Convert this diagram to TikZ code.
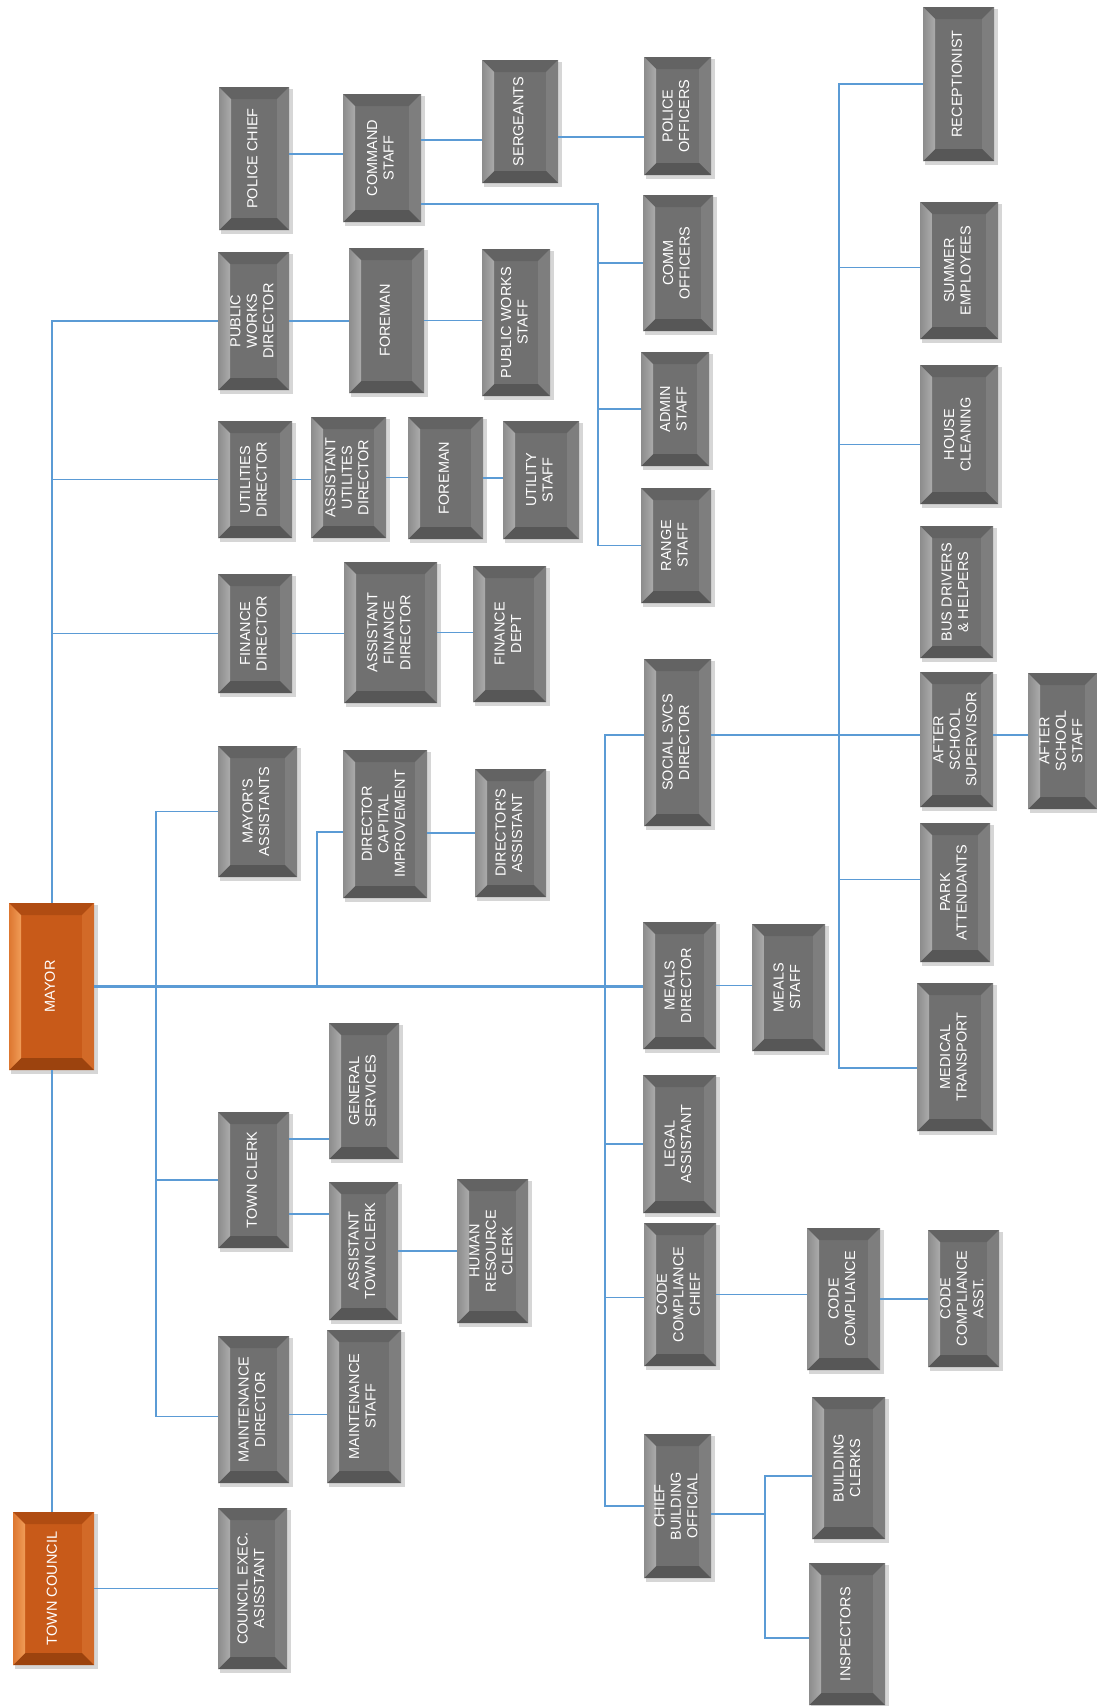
\documentclass[tikz,border=0pt]{standalone}
\usepackage{fontspec}
\usepackage{graphicx}
\newfontfamily\boxfont{Liberation Sans}
\usetikzlibrary{calc}
\definecolor{gface}{HTML}{707070}
\definecolor{gleftA}{HTML}{8C8C8C}
\definecolor{gleftB}{HTML}{ABABAB}
\definecolor{gtop}{HTML}{636363}
\definecolor{gright}{HTML}{7E7E7E}
\definecolor{gbot}{HTML}{575757}
\definecolor{oface}{HTML}{C85A19}
\definecolor{oleftA}{HTML}{DD7730}
\definecolor{oleftB}{HTML}{F09C58}
\definecolor{otop}{HTML}{B04C12}
\definecolor{oright}{HTML}{D26A28}
\definecolor{obot}{HTML}{9C430E}
\definecolor{linkblue}{HTML}{5B9BD5}
\tikzset{
  boxtext/.style={inner sep=0pt, outer sep=0pt, text=white,
    font=\boxfont\fontsize{14.5}{16.5}\selectfont},
  link/.style={draw=linkblue, line width=1.5pt}
}
\newcommand\bv{12}
\newcommand\orgbox[7][g]{%
  \fill[black,opacity=0.16] (#3+2,#4+2) rectangle (#5+4,#6+4);
  \fill[#1face] (#3,#4) rectangle (#5,#6);
  \fill[#1top] (#3,#4) -- (#5,#4) -- (#5-\bv,#4+\bv) -- (#3+\bv,#4+\bv) -- cycle;
  \fill[#1right] (#5,#4) -- (#5,#6) -- (#5-\bv,#6-\bv) -- (#5-\bv,#4+\bv) -- cycle;
  \fill[#1bot] (#3,#6) -- (#3+\bv,#6-\bv) -- (#5-\bv,#6-\bv) -- (#5,#6) -- cycle;
  \shade[left color=#1leftA, right color=#1leftB] (#3,#4) -- (#3+\bv,#4+\bv) -- (#3+\bv,#6-\bv) -- (#3,#6) -- cycle;
  \node[boxtext, minimum width={#5-#3}, minimum height={#6-#4}] (#2) at ({(#3+#5)/2},{(#4+#6)/2})
    {\rotatebox{90}{\begin{tabular}{@{}c@{}}#7\end{tabular}}};
}
\begin{document}
\begin{tikzpicture}[x=1pt,y=-1pt]
\path[use as bounding box, fill=white] (0,0) rectangle (1097,1706);

% top level
\orgbox[o]{mayor}{9}{903}{94}{1070}{MAYOR}
\orgbox[o]{council}{13}{1512}{94}{1665}{TOWN COUNCIL}
% column 1
\orgbox{pchief}{219}{87}{289}{230}{POLICE CHIEF}
\orgbox{pwdir}{218}{252}{289}{390}{PUBLIC\\WORKS\\DIRECTOR}
\orgbox{utildir}{218}{421}{292}{538}{UTILITIES\\DIRECTOR}
\orgbox{findir}{218}{574}{292}{693}{FINANCE\\DIRECTOR}
\orgbox{mayasst}{218}{746}{297}{877}{MAYOR'S\\ASSISTANTS}
\orgbox{townclerk}{218}{1112}{289}{1248}{TOWN CLERK}
\orgbox{maintdir}{218}{1336}{289}{1483}{MAINTENANCE\\DIRECTOR}
\orgbox{councilasst}{218}{1508}{287}{1669}{COUNCIL EXEC.\\ASISSTANT}
% column 2
\orgbox{cmdstaff}{343}{94}{421}{222}{COMMAND\\STAFF}
\orgbox{foremana}{349}{248}{424}{393}{FOREMAN}
\orgbox{asstutil}{311}{417}{386}{538}{ASSISTANT\\UTILITES\\DIRECTOR}
\orgbox{asstfin}{344}{562}{437}{703}{ASSISTANT\\FINANCE\\DIRECTOR}
\orgbox{dci}{343}{750}{427}{898}{DIRECTOR\\CAPITAL\\IMPROVEMENT}
\orgbox{gensvc}{329}{1023}{399}{1159}{GENERAL\\SERVICES}
\orgbox{asstclerk}{329}{1182}{398}{1320}{ASSISTANT\\TOWN CLERK}
\orgbox{maintstaff}{327}{1330}{401}{1483}{MAINTENANCE\\STAFF}
% column 3
\orgbox{sergeants}{482}{60}{558}{183}{SERGEANTS}
\orgbox{pwstaff}{482}{249}{550}{396}{PUBLIC WORKS\\STAFF}
\orgbox{foremanb}{408}{417}{483}{539}{FOREMAN}
\orgbox{utilstaff}{503}{421}{579}{539}{UTILITY\\STAFF}
\orgbox{findept}{473}{566}{546}{702}{FINANCE\\DEPT}
\orgbox{dirasst}{475}{769}{546}{897}{DIRECTOR'S\\ASSISTANT}
\orgbox{hrclerk}{457}{1179}{528}{1323}{HUMAN\\RESOURCE\\CLERK}
% column 4
\orgbox{pofficers}{644}{57}{711}{175}{POLICE\\OFFICERS}
\orgbox{commoff}{643}{195}{713}{331}{COMM\\OFFICERS}
\orgbox{adminstaff}{641}{352}{709}{466}{ADMIN\\STAFF}
\orgbox{rangestaff}{641}{488}{711}{603}{RANGE\\STAFF}
\orgbox{socsvc}{644}{659}{711}{826}{SOCIAL SVCS\\DIRECTOR}
\orgbox{mealsdir}{643}{922}{716}{1049}{MEALS\\DIRECTOR}
\orgbox{legal}{643}{1075}{716}{1213}{LEGAL\\ASSISTANT}
\orgbox{ccchief}{644}{1223}{716}{1366}{CODE\\COMPLIANCE\\CHIEF}
\orgbox{cbo}{644}{1434}{711}{1578}{CHIEF\\BUILDING\\OFFICIAL}
% column 5
\orgbox{mealsstaff}{752}{924}{825}{1051}{MEALS\\STAFF}
\orgbox{cc}{807}{1228}{880}{1370}{CODE\\COMPLIANCE}
\orgbox{bclerks}{812}{1397}{885}{1539}{BUILDING\\CLERKS}
\orgbox{inspectors}{809}{1563}{885}{1705}{INSPECTORS}
% column 6
\orgbox{reception}{923}{7}{994}{161}{RECEPTIONIST}
\orgbox{summer}{920}{202}{998}{339}{SUMMER\\EMPLOYEES}
\orgbox{house}{920}{365}{998}{504}{HOUSE\\CLEANING}
\orgbox{bus}{920}{526}{993}{658}{BUS DRIVERS\\\& HELPERS}
\orgbox{assup}{920}{672}{993}{807}{AFTER\\SCHOOL\\SUPERVISOR}
\orgbox{park}{920}{823}{990}{962}{PARK\\ATTENDANTS}
\orgbox{medical}{917}{983}{993}{1131}{MEDICAL\\TRANSPORT}
\orgbox{ccasst}{928}{1230}{999}{1367}{CODE\\COMPLIANCE\\ASST.}
\orgbox{asstaff}{1028}{673}{1097}{809}{AFTER\\SCHOOL\\STAFF}

% connectors
\begin{scope}[link]
\draw[line width=2pt] (mayor.north) |- (pwdir.west);
\draw (mayor.north |- utildir.west) -- (utildir.west);
\draw (mayor.north |- findir.west) -- (findir.west);
\draw[line width=2pt] (mayor.south) -- (mayor.south |- council.north);
\draw (council.east) -- (council.east -| councilasst.west);
\draw[line width=2.2pt] (mayor.east) -- (mayor.east -| mealsdir.west);
\draw (mealsdir.east) -- (mealsdir.east -| mealsstaff.west);

\coordinate (v1) at (156,986.5);
\draw (v1) |- (mayasst.west);
\draw (v1) |- (townclerk.west);
\draw (v1) |- ([yshift=-7pt]maintdir.west);
\coordinate (v2) at (317,986.5);
\draw (v2) |- ([yshift=-8pt]dci.west);
\coordinate (v3) at (605,986.5);
\draw (v3) |- ([yshift=7.5pt]socsvc.west);
\draw (v3) |- (legal.west);
\draw (v3) |- ([yshift=-3pt]ccchief.west);
\draw (v3) |- (cbo.west);

\draw ([yshift=7.5pt]socsvc.east) -- ([yshift=7.5pt]socsvc.east -| assup.west);
\coordinate (v4) at (839,735);
\draw (v4) |- (reception.west);
\draw (v4) |- ([yshift=3pt]summer.west);
\draw (v4) |- ([yshift=-10pt]house.west);
\draw (v4) |- ([yshift=13pt]park.west);
\draw (v4) |- ([yshift=-11pt]medical.west);
\draw ([yshift=4.5pt]assup.east) -- ([yshift=4.5pt]assup.east -| asstaff.west);

\draw ([yshift=4.5pt]pchief.east) -- ([yshift=4.5pt]pchief.east -| cmdstaff.west);
\draw ([yshift=18pt]cmdstaff.east) -- ([yshift=18pt]cmdstaff.east -| sergeants.west);
\draw ([yshift=-15.5pt]sergeants.east) -- ([yshift=-15.5pt]sergeants.east -| pofficers.west);
\coordinate (v5) at (598,204);
\draw (cmdstaff.east |- v5) -- (v5) |- (rangestaff.west);
\draw (v5) |- (commoff.west);
\draw (v5) |- (adminstaff.west);

\draw (pwdir.east) -- (pwdir.east -| foremana.west);
\draw (foremana.east) -- (foremana.east -| pwstaff.west);
\draw (utildir.east) -- (utildir.east -| asstutil.west);
\draw (asstutil.east) -- (asstutil.east -| foremanb.west);
\draw (foremanb.east) -- (foremanb.east -| utilstaff.west);
\draw (findir.east) -- (findir.east -| asstfin.west);
\draw (asstfin.east) -- (asstfin.east -| findept.west);
\draw (dci.east |- dirasst.west) -- (dirasst.west);

\draw ([yshift=41pt]townclerk.east) -- ([yshift=41pt]townclerk.east -| gensvc.west);
\draw ([yshift=-34pt]townclerk.east) -- ([yshift=-34pt]townclerk.east -| asstclerk.west);
\draw (asstclerk.east) -- (asstclerk.east -| hrclerk.west);
\draw ([yshift=-5pt]maintdir.east) -- ([yshift=-5pt]maintdir.east -| maintstaff.west);

\draw (ccchief.east) -- (ccchief.east -| cc.west);
\draw (cc.east) -- (cc.east -| ccasst.west);
\coordinate (v6) at (765,1514);
\draw ([yshift=-8pt]cbo.east) -- (v6);
\draw (v6) |- ([yshift=-8pt]bclerks.west);
\draw (v6) |- ([yshift=-4pt]inspectors.west);
\end{scope}
\end{tikzpicture}
\end{document}
